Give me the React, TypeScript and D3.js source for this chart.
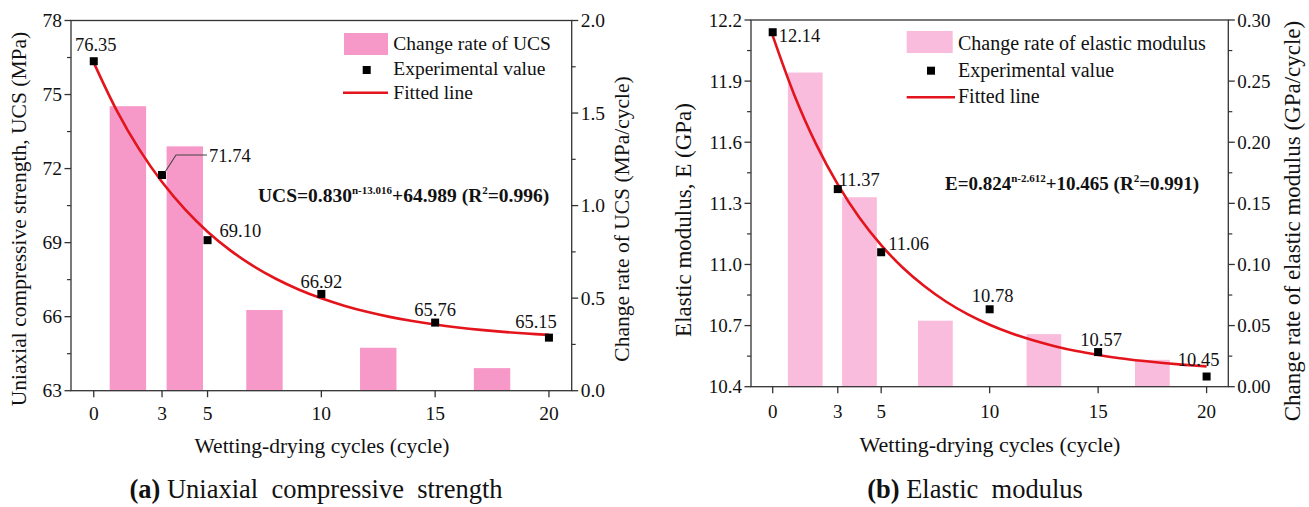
import React from 'react';
import * as d3 from 'd3';

// ---------- data ----------
const cycles = [0, 3, 5, 10, 15, 20];
const xTickValues = [0, 3, 5, 10, 15, 20];
const rateMid = [1.5, 4, 7.5, 12.5, 17.5];
const fitCycles = [0, 1, 2, 3, 4, 5, 6, 7, 8, 9, 10, 11, 12, 13, 14, 15, 16, 17, 18, 19, 20];

const ucsValues = [76.35, 71.74, 69.1, 66.92, 65.76, 65.15];
const ucsLabels = ['76.35', '71.74', '69.10', '66.92', '65.76', '65.15'];
const ucsRate = [1.537, 1.32, 0.436, 0.232, 0.122];
const ucsFit = [76.294, 74.372, 72.777, 71.453, 70.354, 69.442, 68.685, 68.057, 67.535, 67.102, 66.743, 66.445, 66.197, 65.992, 65.822, 65.68, 65.563, 65.465, 65.384, 65.317, 65.261];
const ucsTicks = [63, 66, 69, 72, 75, 78];
const ucsRateTicks = [0, 0.5, 1.0, 1.5, 2.0];

const eValues = [12.14, 11.37, 11.06, 10.78, 10.57, 10.45];
const eLabels = ['12.14', '11.37', '11.06', '10.78', '10.57', '10.45'];
const eRate = [0.257, 0.155, 0.054, 0.043, 0.022];
const eFit = [12.123, 11.831, 11.591, 11.393, 11.229, 11.095, 10.984, 10.893, 10.817, 10.755, 10.704, 10.662, 10.628, 10.599, 10.575, 10.556, 10.54, 10.527, 10.516, 10.507, 10.5];
const eTicks = [10.4, 10.7, 11.0, 11.3, 11.6, 11.9, 12.2];
const eRateTicks = [0, 0.05, 0.1, 0.15, 0.2, 0.25, 0.3];

const FONT = "'Liberation Serif', 'Times New Roman', serif";
const AX = '#333';

type LabelPos = { dx: number; dy: number; anchor: 'start' | 'middle' | 'end'; leader?: boolean };

const midpoints = (t: number[]) => t.slice(1).map((v, i) => (v + t[i]) / 2);

function Panel(p: any) {
  const x = d3.scaleLinear().domain([-1, 21]).range([p.left, p.right]);
  const yL = d3.scaleLinear().domain([p.yLTicks[0], p.yLTicks[p.yLTicks.length - 1]]).range([p.bottom, p.top]);
  const yR = d3.scaleLinear().domain([p.yRTicks[0], p.yRTicks[p.yRTicks.length - 1]]).range([p.bottom, p.top]);
  const line = d3
    .line<number>()
    .x((_, i) => x(fitCycles[i]))
    .y((d) => yL(d))
    .curve(d3.curveCatmullRom.alpha(0.5));
  const barW = x(1.6) - x(0);
  const sq = 8;
  const tickFs = p.tickFs;
  return (
    <g fontFamily={FONT} fill="#111">
      {/* bars */}
      {rateMid.map((m, i) => (
        <rect key={'b' + i} x={x(m) - barW / 2} width={barW} y={yR(p.rate[i])} height={yR(0) - yR(p.rate[i])} fill={p.barColor} />
      ))}
      {/* frame */}
      <rect x={p.left} y={p.top} width={p.right - p.left} height={p.bottom - p.top} fill="none" stroke={AX} strokeWidth={1.3} />
      {/* x ticks */}
      {xTickValues.map((t) => (
        <g key={'x' + t}>
          <line x1={x(t)} x2={x(t)} y1={p.bottom} y2={p.bottom + 6.5} stroke={AX} strokeWidth={1.3} />
          <text x={x(t)} y={p.bottom + p.xLabelOff} textAnchor="middle" fontSize={tickFs}>{t}</text>
        </g>
      ))}
      {/* left y ticks */}
      {p.yLTicks.map((t: number) => (
        <g key={'yl' + t}>
          <line x1={p.left - 6.5} x2={p.left} y1={yL(t)} y2={yL(t)} stroke={AX} strokeWidth={1.3} />
          <text x={p.left - 9} y={yL(t)} textAnchor="end" dominantBaseline="central" fontSize={tickFs}>{p.yLFmt(t)}</text>
        </g>
      ))}
      {midpoints(p.yLTicks).map((t: number) => (
        <line key={'ylm' + t} x1={p.left - 4} x2={p.left} y1={yL(t)} y2={yL(t)} stroke={AX} strokeWidth={1.2} />
      ))}
      {/* right y ticks */}
      {p.yRTicks.map((t: number) => (
        <g key={'yr' + t}>
          <line x1={p.right} x2={p.right + 6.5} y1={yR(t)} y2={yR(t)} stroke={AX} strokeWidth={1.3} />
          <text x={p.right + 9} y={yR(t)} textAnchor="start" dominantBaseline="central" fontSize={tickFs}>{p.yRFmt(t)}</text>
        </g>
      ))}
      {midpoints(p.yRTicks).map((t: number) => (
        <line key={'yrm' + t} x1={p.right} x2={p.right + 4} y1={yR(t)} y2={yR(t)} stroke={AX} strokeWidth={1.2} />
      ))}
      {/* fitted line */}
      <path d={line(p.fit) || ''} fill="none" stroke="#e3141b" strokeWidth={2.6} />
      {/* points */}
      {cycles.map((c, i) => (
        <rect key={'p' + i} x={x(c) - sq / 2} y={yL(p.values[i]) - sq / 2} width={sq} height={sq} fill="#000" />
      ))}
      {/* point labels */}
      {cycles.map((c, i) => {
        const lp: LabelPos = p.labelPos[i];
        const px = x(c);
        const py = yL(p.values[i]);
        return (
          <g key={'l' + i}>
            {lp.leader && (
              <polyline points={`${px + 3},${py - 3} ${px + 14},${py - 20} ${px + 45},${py - 20}`} fill="none" stroke="#444" strokeWidth={1.1} />
            )}
            <text x={px + lp.dx} y={py + lp.dy} textAnchor={lp.anchor} fontSize={p.labelFs}>{p.labels[i]}</text>
          </g>
        );
      })}
      {/* legend */}
      <rect x={p.leg.sx} y={p.leg.sy} width={p.leg.sw} height={22} fill={p.barColor} />
      <rect x={p.leg.qx - sq / 2} y={p.leg.qy - sq / 2} width={sq} height={sq} fill="#000" />
      <line x1={p.leg.lx1} x2={p.leg.lx2} y1={p.leg.ly} y2={p.leg.ly} stroke="#e3141b" strokeWidth={2.6} />
      {p.legendTexts.map((t: string, i: number) => (
        <text key={'lg' + i} x={p.leg.tx} y={p.leg.ty[i]} fontSize={p.leg.fs}>{t}</text>
      ))}
      {/* equation */}
      <text x={p.eq.x} y={p.eq.y} fontSize={p.eq.fs} fontWeight="bold">
        {p.eq.a}
        <tspan dy={-8} fontSize={11}>{p.eq.exp}</tspan>
        <tspan dy={8}>{p.eq.b}</tspan>
        <tspan dy={-8} fontSize={11}>2</tspan>
        <tspan dy={8}>{p.eq.c}</tspan>
      </text>
      {/* axis titles */}
      <text transform={`translate(${p.yLTitle.x},${p.yLTitle.y}) rotate(-90)`} textAnchor="middle" dominantBaseline="central" fontSize={p.yLTitle.fs}>{p.yLTitle.t}</text>
      <text transform={`translate(${p.yRTitle.x},${p.yRTitle.y}) rotate(-90)`} textAnchor="middle" dominantBaseline="central" fontSize={p.yRTitle.fs}>{p.yRTitle.t}</text>
      <text x={p.xTitle.x} y={p.xTitle.y} textAnchor="middle" fontSize={p.xTitle.fs}>Wetting-drying cycles (cycle)</text>
      <text x={p.cap.x} y={p.cap.y} textAnchor="middle" fontSize={p.cap.fs} style={{ whiteSpace: 'pre' }}>
        <tspan fontWeight="bold">{p.cap.b}</tspan>
        <tspan>{p.cap.t}</tspan>
      </text>
    </g>
  );
}

export default function App() {
  const left = {
    left: 71, right: 571.7, top: 20.5, bottom: 390.7,
    yLTicks: ucsTicks, yRTicks: ucsRateTicks,
    yLFmt: (v: number) => d3.format('d')(v), yRFmt: (v: number) => d3.format('.1f')(v),
    values: ucsValues, labels: ucsLabels, rate: ucsRate, fit: ucsFit,
    barColor: '#f799c8', tickFs: 19.5, labelFs: 18.5, xLabelOff: 29,
    labelPos: [
      { dx: 2, dy: -10, anchor: 'middle' },
      { dx: 47, dy: -13, anchor: 'start', leader: true },
      { dx: 12, dy: -3, anchor: 'start' },
      { dx: 0, dy: -6, anchor: 'middle' },
      { dx: 0, dy: -7, anchor: 'middle' },
      { dx: -13, dy: -10, anchor: 'middle' },
    ],
    leg: { sx: 344, sy: 33, sw: 44, qx: 366.7, qy: 70, lx1: 343, lx2: 388, ly: 92.7, tx: 393.3, ty: [50, 75, 99], fs: 19.5 },
    legendTexts: ['Change rate of UCS', 'Experimental value', 'Fitted line'],
    eq: { x: 258, y: 202, fs: 19.5, a: 'UCS=0.830', exp: 'n-13.016', b: '+64.989 (R', c: '=0.996)' },
    yLTitle: { x: 19, y: 219, fs: 21.5, t: 'Uniaxial compressive strength, UCS (MPa)' },
    yRTitle: { x: 621.7, y: 219, fs: 21.5, t: 'Change rate of UCS (MPa/cycle)' },
    xTitle: { x: 322, y: 453, fs: 21.5 },
    cap: { x: 316, y: 498, fs: 26.5, b: '(a)', t: ' Uniaxial  compressive  strength' },
  };
  const right = {
    left: 751, right: 1228.3, top: 20, bottom: 386.7,
    yLTicks: eTicks, yRTicks: eRateTicks,
    yLFmt: (v: number) => d3.format('.1f')(v), yRFmt: (v: number) => d3.format('.2f')(v),
    values: eValues, labels: eLabels, rate: eRate, fit: eFit,
    barColor: '#fabcdc', tickFs: 19, labelFs: 18.5, xLabelOff: 31,
    labelPos: [
      { dx: 6, dy: 10, anchor: 'start' },
      { dx: 1, dy: -3, anchor: 'start' },
      { dx: 7, dy: -2, anchor: 'start' },
      { dx: 3, dy: -7, anchor: 'middle' },
      { dx: 3, dy: -6, anchor: 'middle' },
      { dx: -8, dy: -11, anchor: 'middle' },
    ],
    leg: { sx: 906.7, sy: 31, sw: 46, qx: 931, qy: 70.7, lx1: 906.7, lx2: 955, ly: 97.3, tx: 958, ty: [50, 77, 103], fs: 20 },
    legendTexts: ['Change rate of elastic modulus', 'Experimental value', 'Fitted line'],
    eq: { x: 945, y: 190, fs: 19, a: 'E=0.824', exp: 'n-2.612', b: '+10.465 (R', c: '=0.991)' },
    yLTitle: { x: 683.5, y: 220, fs: 23, t: 'Elastic modulus, E (GPa)' },
    yRTitle: { x: 1292, y: 221, fs: 23, t: 'Change rate of elastic modulus (GPa/cycle)' },
    xTitle: { x: 990, y: 452, fs: 22 },
    cap: { x: 975, y: 498, fs: 26.5, b: '(b)', t: ' Elastic  modulus' },
  };
  return (
    <svg width={1309} height={507} style={{ position: 'absolute', left: 0, top: 0, background: '#fff' }}>
      <rect width={1309} height={507} fill="#fff" />
      <Panel {...left} />
      <Panel {...right} />
    </svg>
  );
}
